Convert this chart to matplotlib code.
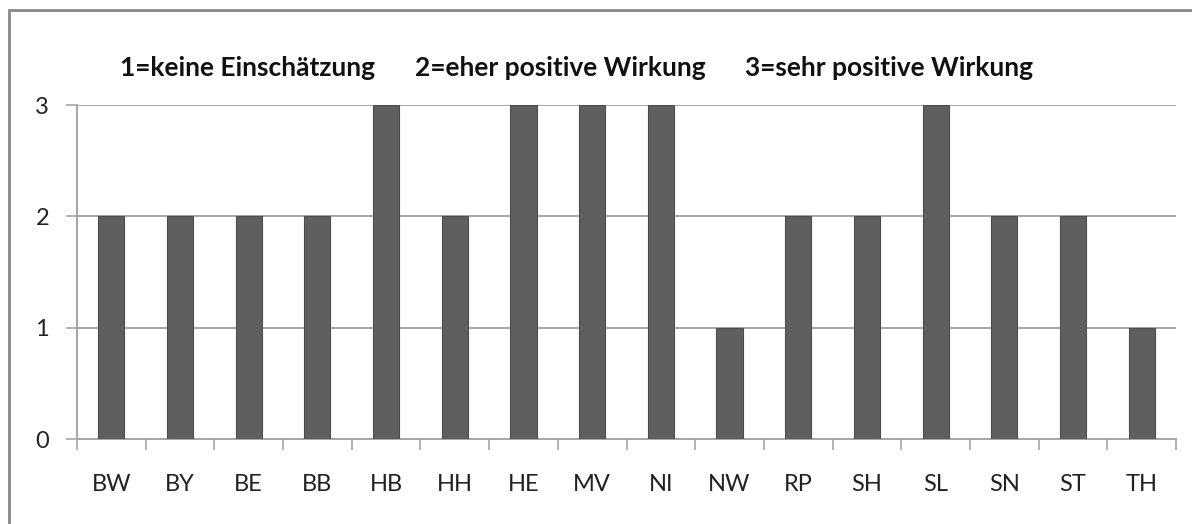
import matplotlib
matplotlib.use("Agg")
import matplotlib.pyplot as plt
from matplotlib.patches import Rectangle

plt.rcParams["font.family"] = ["Lato", "DejaVu Sans"]

# Bundesländer and their rating (1..3)
laender = ["BW", "BY", "BE", "BB", "HB", "HH", "HE", "MV",
           "NI", "NW", "RP", "SH", "SL", "SN", "ST", "TH"]
werte = [2, 2, 2, 2, 3, 2, 3, 3, 3, 1, 2, 2, 3, 2, 2, 1]
y_ticks = [0, 1, 2, 3]
legende = ["1=keine Einschätzung", "2=eher positive Wirkung", "3=sehr positive Wirkung"]
legende_x = [120, 415, 745]  # left edge of each caption, pixels

W, H = 1192, 524
fig = plt.figure(figsize=(W / 100, H / 100), dpi=100)
ax = fig.add_axes([77 / W, (H - 439) / H, (1176 - 77) / W, (439 - 105) / H])

grid_c = "#a6a6a6"
x = list(range(len(laender)))
ax.bar(x, werte, width=0.38, color="#5f5f5f", edgecolor="#4d4d4d", linewidth=0.8, zorder=3)

ax.set_xlim(-0.5, len(laender) - 0.5)
ax.set_ylim(0, 3)
ax.set_yticks(y_ticks)
ax.set_yticklabels([str(v) for v in y_ticks], fontsize=17, color="#222222")
ax.yaxis.grid(True, color=grid_c, linewidth=1.4, zorder=0)

# category labels centred, ticks on the category boundaries
ax.set_xticks(x)
ax.set_xticklabels(laender, fontsize=17, color="#222222")
ax.tick_params(axis="x", length=0, pad=25)
ax.set_xticks([i - 0.5 for i in range(len(laender) + 1)], minor=True)
ax.tick_params(axis="x", which="minor", length=8, width=1.2, color=grid_c, direction="out")
ax.tick_params(axis="y", length=8, width=1.2, color=grid_c, pad=12)

for s in ["top", "right"]:
    ax.spines[s].set_visible(False)
for s in ["left", "bottom"]:
    ax.spines[s].set_color(grid_c)
    ax.spines[s].set_linewidth(1.4)

for txt, px in zip(legende, legende_x):
    fig.text(px / W, (H - 68) / H, txt, fontsize=19, fontweight="bold",
             ha="left", va="center", color="#111111")

# chart frame (right/bottom edges fall outside the picture)
fig.patches.append(Rectangle((9 / W, -0.1), 1.2, (H - 10) / H + 0.1,
                             transform=fig.transFigure, fill=False,
                             edgecolor="#888888", linewidth=2))

fig.savefig("out.png", dpi=100)
